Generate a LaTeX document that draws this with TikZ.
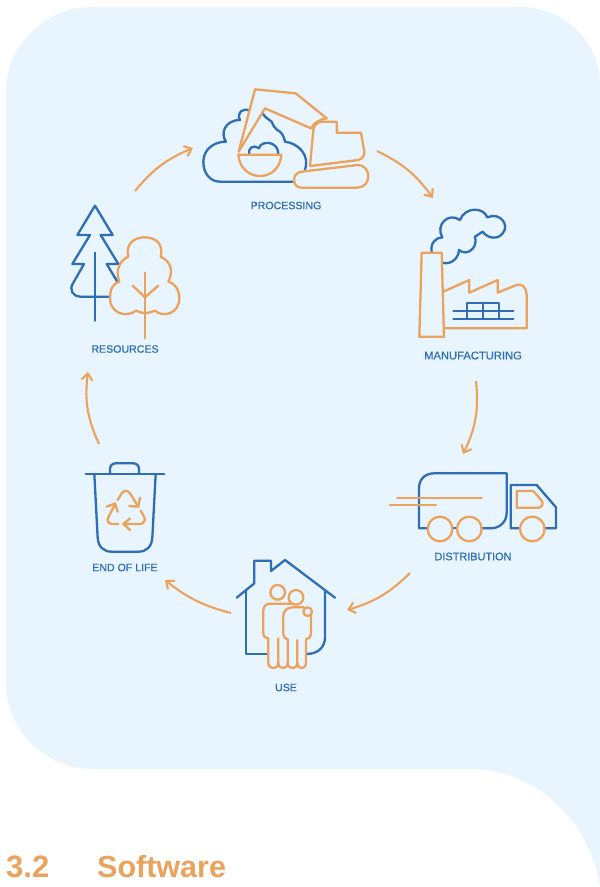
\documentclass[tikz,border=0pt]{standalone}
\usepackage{fontspec}
\setmainfont{Liberation Sans}
\newfontfamily\lblfont[FakeBold=0.6]{Liberation Sans}
\usetikzlibrary{arrows.meta}
\definecolor{bgblue}{HTML}{E8F5FE}
\definecolor{iconblue}{HTML}{2F6DB5}
\definecolor{iconorange}{HTML}{EBA25C}
\tikzset{
  bl/.style={draw=iconblue,line width=2.3pt,line cap=round,line join=round},
  or/.style={draw=iconorange,line width=2.3pt,line cap=round,line join=round},
  lbl/.style={text=iconblue,font=\lblfont\fontsize{#1}{12}\selectfont,inner sep=0pt,anchor=center},
  flow/.style={draw=iconorange,line width=2.1pt,-{Straight Barb[length=6.5pt,width=11pt,line width=2.1pt]},bend left=#1},
  zoomed/.style={shift={#1},scale=1/3}
}
\begin{document}
\begin{tikzpicture}[x=1pt,y=-1pt]
\useasboundingbox (0,0) rectangle (600,887);
\fill[bgblue] (6,92) .. controls (6,45) and (45,7) .. (92,7) -- (520,7)
  .. controls (565,7) and (600,42) .. (600,85) -- (600,887)
  .. controls (590,820) and (535,769) .. (470,769) -- (92,769)
  .. controls (45,769) and (6,730) .. (6,683) -- cycle;

% Labels
\node[lbl=10.6] (proc) at (286,205.5) {PROCESSING};
\node[lbl=11.2] (manu) at (473,355.5) {MANUFACTURING};
\node[lbl=10.9] (dist) at (473,556.5) {DISTRIBUTION};
\node[lbl=10.6] (use) at (286,687.5) {USE};
\node[lbl=10.6] (eol) at (125,567.5) {END OF LIFE};
\node[lbl=10.6] (res) at (125,349) {RESOURCES};

% Flow arrows
\coordinate (a1) at (377,151); \coordinate (a2) at (433,198);
\coordinate (b1) at (476,381); \coordinate (b2) at (463,454);
\coordinate (c1) at (410,573); \coordinate (c2) at (347,610);
\coordinate (d1) at (231,613); \coordinate (d2) at (165,580);
\coordinate (e1) at (99,444);  \coordinate (e2) at (88,372);
\coordinate (f1) at (135,191); \coordinate (f2) at (193,148);
\draw[flow=14] (a1) to (a2);
\draw[flow=16] (b1) to (b2);
\draw[flow=14] (c1) to (c2);
\draw[flow=12] (d1) to (d2);
\draw[flow=16] (e1) to (e2);
\draw[flow=14] (f1) to (f2);

% Processing
\begin{scope}[zoomed={(190,80)}]
\draw[bl] (308,305) -- (90,305) .. controls (60,305) and (40,280) .. (40,245)
  .. controls (40,210) and (70,185) .. (108,185)
  .. controls (90,160) and (105,120) .. (150,120)
  .. controls (138,98) and (160,82) .. (178,92);
\draw[bl] (218,100) .. controls (225,112) and (235,118) .. (245,125)
  .. controls (250,135) and (252,145) .. (262,150)
  .. controls (275,155) and (282,170) .. (285,185)
  .. controls (325,190) and (360,225) .. (345,268);
\draw[bl] (178,222) .. controls (172,205) and (192,192) .. (207,205)
  .. controls (212,180) and (265,182) .. (265,222);
\draw[or] (146,215) -- (195,28) -- (317,40) -- (410,115);
\draw[or] (146,215) -- (225,85) -- (363,145);
\draw[or] (363,145) .. controls (372,125) and (395,117) .. (410,115);
\draw[or] (360,258) -- (370,150) .. controls (372,135) and (382,125) .. (397,125)
  -- (440,125) -- (440,158) -- (513,158) -- (523,215)
  .. controls (525,232) and (512,240) .. (498,241) -- cycle;
\draw[or] (335,275) -- (503,255) .. controls (522,254) and (535,270) .. (535,289)
  .. controls (535,310) and (520,323) .. (500,323) -- (335,323)
  .. controls (320,323) and (312,312) .. (312,300)
  .. controls (312,288) and (320,277) .. (335,275) -- cycle;
\draw[or] (145,224) -- (274,224) .. controls (272,262) and (245,288) .. (210,288)
  .. controls (175,288) and (148,262) .. (145,224) -- cycle;
\end{scope}

% Manufacturing
\begin{scope}[zoomed={(410,200)}]
\draw[bl] (65,155) .. controls (60,130) and (78,112) .. (97,112)
  .. controls (75,75) and (115,35) .. (150,60)
  .. controls (165,20) and (220,20) .. (232,52)
  .. controls (270,35) and (300,75) .. (278,100)
  .. controls (265,118) and (235,118) .. (218,95)
  -- (195,110)
  .. controls (205,145) and (170,170) .. (147,150)
  .. controls (145,178) and (120,195) .. (98,188);
\draw[or] (35,158) -- (95,158) -- (102,410) -- (28,410) -- cycle;
\draw[or] (100,275) -- (178,240) -- (178,278) -- (263,240) -- (263,278) -- (322,254)
  .. controls (338,250) and (350,265) .. (350,285) -- (350,385) -- (102,385);
\draw[bl] (130,332) -- (310,332) (130,357) -- (310,357)
  (172,355) -- (172,308) -- (268,308) -- (268,355) (220,308) -- (220,355);
\end{scope}

% Distribution
\begin{scope}[zoomed={(380,460)}]
\draw[bl] (143,205) -- (117,205) -- (117,85) .. controls (117,58) and (135,40) .. (162,40)
  -- (380,40) -- (380,158) .. controls (380,185) and (360,205) .. (332,205) -- (305,205);
\draw[bl] (218,205) -- (231,205);
\draw[bl] (420,205) -- (392,205) -- (392,75) -- (470,75) -- (528,142) -- (528,205) -- (495,205);
\draw[or] (410,93) -- (460,93) -- (485,122) .. controls (492,132) and (485,143) .. (475,143) -- (410,143) -- cycle;
\draw[or] (180,207) circle (37);
\draw[or] (268,207) circle (37);
\draw[or] (457,207) circle (37);
\draw[or] (52,115) -- (305,115);
\draw[or] (30,136) -- (168,136);
\end{scope}

% Use
\begin{scope}[zoomed={(225,550)}]
\draw[bl] (35,143) -- (88,100) -- (88,32) -- (138,32) -- (138,63) -- (180,30) -- (330,143);
\draw[bl] (63,122) -- (63,312) -- (130,312);
\draw[bl] (300,125) -- (300,262) .. controls (300,292) and (278,312) .. (245,312);
\draw[or] (158,127) circle (22);
\draw[or] (213,142) circle (22);
\draw[or] (205,161) -- (135,161) .. controls (122,161) and (115,170) .. (115,182)
  -- (115,250) .. controls (115,260) and (122,265) .. (130,265) -- (130,338)
  .. controls (130,360) and (160,360) .. (160,338) -- (160,265);
\draw[or] (160,338) .. controls (160,360) and (188,360) .. (188,338) -- (188,268)
  .. controls (180,268) and (175,260) .. (175,252) -- (175,197)
  .. controls (175,182) and (188,172) .. (203,172) -- (237,172);
\draw[or] (188,338) .. controls (188,360) and (217,360) .. (217,338) -- (217,270);
\draw[or] (217,338) .. controls (217,360) and (243,360) .. (243,338) -- (243,268)
  .. controls (252,268) and (258,260) .. (258,252) -- (258,196);
\draw[or] (248,185) circle (13);
\end{scope}

% End of life
\begin{scope}[zoomed={(75,455)}]
\draw[bl] (32,57) -- (268,57);
\draw[bl] (105,57) -- (105,42) .. controls (105,32) and (112,25) .. (122,25) -- (175,25)
  .. controls (185,25) and (192,32) .. (192,42) -- (192,57);
\draw[bl] (58,57) -- (68,248) .. controls (70,275) and (85,290) .. (110,290) -- (190,290)
  .. controls (215,290) and (230,275) .. (232,248) -- (242,57);
\draw[or] (130,207) -- (112,207) .. controls (100,207) and (94,197) .. (100,187) -- (120,148);
\draw[or] (95,155) -- (120,145) -- (128,170);
\draw[or] (128,135) -- (140,115) .. controls (146,105) and (158,105) .. (165,115) -- (190,155);
\draw[or] (163,153) -- (190,155) -- (195,128);
\draw[or] (145,207) -- (195,207) .. controls (207,207) and (213,195) .. (207,185) -- (197,167);
\draw[or] (165,190) -- (145,207) -- (165,225);
\end{scope}

% Resources
\begin{scope}[zoomed={(60,200)}]
\draw[bl] (172,245) -- (140,192) -- (175,192) -- (122,105) -- (158,105) -- (105,17)
  -- (52,105) -- (90,105) -- (37,192) -- (72,192) -- (40,248)
  .. controls (25,270) and (40,290) .. (60,290) -- (150,290);
\draw[bl] (105,158) -- (105,362);
\draw[or] (255,340) .. controls (245,340) and (238,335) .. (228,332)
  .. controls (200,355) and (150,340) .. (150,295)
  .. controls (150,265) and (160,250) .. (178,245)
  .. controls (165,210) and (180,180) .. (205,170)
  .. controls (195,130) and (225,112) .. (253,112)
  .. controls (285,112) and (312,130) .. (302,170)
  .. controls (335,185) and (340,215) .. (325,245)
  .. controls (345,250) and (358,270) .. (358,295)
  .. controls (358,340) and (310,355) .. (285,332)
  .. controls (275,335) and (265,340) .. (255,340);
\draw[or] (255,218) -- (255,415);
\draw[or] (218,257) -- (255,292) -- (295,257);
\end{scope}

% Heading
\node[anchor=base west,inner sep=0pt,text=iconorange,font=\fontsize{31}{33}\selectfont\bfseries] (num) at (6,877) {3.2};
\node[anchor=base west,inner sep=0pt,text=iconorange,font=\fontsize{30.5}{33}\selectfont\bfseries] (soft) at (97,877) {Software};
\end{tikzpicture}
\end{document}
